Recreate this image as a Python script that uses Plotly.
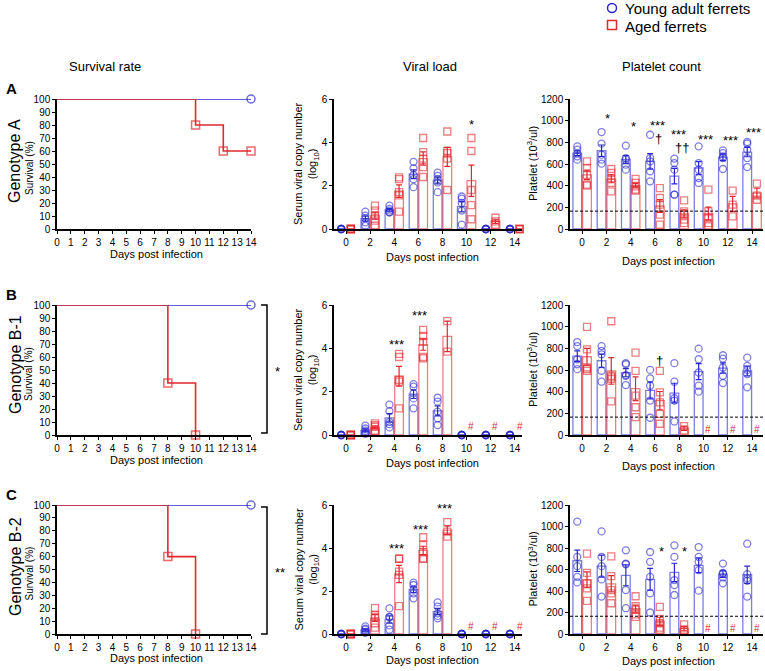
import numpy as np
import plotly.graph_objects as go

W, H = 765, 671
FONT = 'Liberation Sans, Arial, sans-serif'
BLUE = 'rgb(40, 40, 205)'
RED = 'rgb(225, 40, 45)'
BLUE_BAR = 'rgba(40, 40, 205, 0.6)'
RED_BAR = 'rgba(225, 40, 45, 0.6)'

days = [0, 2, 4, 6, 8, 10, 12, 14]
genotypes = ['Genotype A', 'Genotype B-1', 'Genotype B-2']
letters = ['A', 'B', 'C']
groups = ['Young adult ferrets', 'Aged ferrets']

# survival curves (%), aged group; young stays at 100
surv_young_x = [0, 14]
surv_young_y = [100, 100]
surv_aged_x = [[0, 10, 12, 14], [0, 8, 10], [0, 8, 10]]
surv_aged_y = [[100, 80, 60, 60], [100, 40, 0], [100, 60, 0]]

# viral load (log10 copies), individual ferrets per day
viral_young_A = [[0, 0, 0, 0, 0], [0.8, 0.62, 0.5, 0.31, 0.15], [1.08, 0.93, 0.85, 0.77, 0.77],
                 [3.1, 2.8, 2.5, 2.3, 1.93], [2.6, 2.45, 2.3, 2.15, 1.7], [1.5, 1.4, 1.2, 0.85, 0.2],
                 [0, 0, 0, 0, 0], [0, 0, 0, 0, 0]]
viral_aged_A = [[0, 0, 0, 0, 0], [1.08, 0.85, 0.62, 0.39, 0.15], [2.38, 2.3, 1.7, 1.55, 0.8],
                [4.2, 3.55, 3.25, 2.86, 2.4], [4.5, 3.6, 3.5, 3.25, 1.8], [4.2, 3.6, 1.8, 1.1, 0.45],
                [0.52, 0.35, 0.2], [0, 0, 0]]
viral_young_B = [[0, 0, 0, 0, 0], [0.43, 0.3, 0.2, 0.1, 0.05], [1.4, 1.1, 0.6, 0.5, 0.35],
                 [2.35, 2.23, 1.92, 1.69, 1.23], [1.72, 1.54, 1.08, 0.77, 0.46], [0, 0, 0, 0, 0],
                 [0, 0, 0, 0, 0], [0, 0, 0, 0, 0]]
viral_aged_B = [[0, 0, 0, 0, 0], [0.54, 0.45, 0.38, 0.2, 0.18], [3.74, 3.6, 2.54, 2.46, 1.23],
                [4.85, 4.57, 4.3, 3.6, 3.54], [5.26, 3.85], None, None, None]
viral_young_C = [[0, 0, 0, 0, 0], [0.35, 0.25, 0.2, 0.1, 0.05], [1.19, 0.8, 0.78, 0.4, 0.2],
                 [2.39, 2.28, 2.08, 1.89, 1.66], [1.47, 1.27, 0.96, 0.84, 0.73], [0, 0, 0, 0, 0],
                 [0, 0, 0, 0, 0], [0, 0, 0, 0, 0]]
viral_aged_C = [[0, 0, 0, 0, 0], [1.2, 0.9, 0.8, 0.5, 0.3], [3.5, 3.5, 2.9, 2.75, 1.3],
                [4.5, 4.14, 3.8, 3.52, 3.49], [5.2, 4.76, 4.53], None, None, None]

# platelet count (10^3/ul)
plt_young_A = [[763, 732, 695, 671, 640], [895, 788, 686, 640, 603], [770, 655, 640, 594, 548],
               [870, 655, 625, 532, 440], [650, 609, 548, 317, 317], [763, 609, 548, 471, 425],
               [726, 700, 670, 655, 554], [803, 788, 732, 655, 572]]
plt_aged_A = [[625, 563, 500, 409, 400], [554, 517, 470, 425, 348], [462, 425, 394, 363, 354],
              [378, 286, 225, 132, 40], [265, 163, 132, 86, 55], [363, 163, 100, 55, 25],
              [354, 225, 117], [418, 308, 270]]
plt_young_B = [[858, 821, 699, 653, 608], [821, 776, 745, 592, 492], [663, 653, 553, 547, 461],
               [601, 522, 455, 318, 159], [663, 492, 339, 318, 125], [797, 699, 577, 455, 400],
               [736, 705, 623, 547, 479], [714, 638, 601, 562, 440]]
plt_aged_B = [[998, 791, 623, 608, 592], [1050, 546, 531, 516, 311], [760, 592, 363, 256, 165],
              [592, 394, 302, 195, 104], [82, 43], None, None, None]
plt_young_C = [[1046, 717, 631, 532, 480], [954, 717, 631, 508, 348], [778, 655, 649, 409, 240],
               [763, 671, 532, 378, 200], [825, 717, 502, 455, 363], [809, 717, 671, 594, 403],
               [655, 569, 563, 526, 471], [840, 557, 517, 495, 348]]
plt_aged_C = [[748, 569, 471, 425, 308], [723, 538, 409, 378, 286], [351, 258, 228, 182, 160],
              [252, 140, 100, 60, 40], [90, 40, 20], None, None, None]
platelet_cutoff = 165

viral_young = [viral_young_A, viral_young_B, viral_young_C]
viral_aged = [viral_aged_A, viral_aged_B, viral_aged_C]
plt_young = [plt_young_A, plt_young_B, plt_young_C]
plt_aged = [plt_aged_A, plt_aged_B, plt_aged_C]

# significance marks: (x, y, text)
viral_marks = [[(10.4, 4.8, '*')],
               [(4.2, 4.2, '***'), (6.1, 5.5, '***')],
               [(4.2, 4.0, '***'), (6.2, 4.85, '***'), (8.2, 5.85, '***')]]
plt_marks = [[(2.1, 1020, '*'), (4.2, 950, '*'), (6.2, 955, '***'), (6.3, 835, '†'),
              (7.9, 875, '***'), (8.2, 750, '††'), (10.2, 830, '***'), (12.25, 820, '***'),
              (14.1, 890, '***')],
             [(6.35, 690, '†')],
             [(6.55, 770, '*'), (8.4, 770, '*')]]

ROW_PX = [(99, 229), (305, 435), (505, 634)]
COL_PX = [(57, 251), (334, 522), (570, 763)]


def fx(p):
    return p / W


def fy(p):
    return 1 - p / H


def sem(v):
    v = np.array(v, dtype=float)
    return float(v.std(ddof=1) / np.sqrt(len(v))) if len(v) > 1 else 0.0


fig = go.Figure()


def add_bars(k, young, aged):
    xa, ya = 'x%d' % k, 'y%d' % k
    for data, off, line_col, col, sym in [(young, -0.4, BLUE_BAR, BLUE, 'circle-open'),
                                          (aged, 0.4, RED_BAR, RED, 'square-open')]:
        bx, by, be = [], [], []
        px_, py_ = [], []
        for d, vals in zip(days, data):
            if vals is None:
                continue
            bx.append(d + off)
            by.append(float(np.mean(vals)))
            be.append(sem(vals))
            px_ += [d + off] * len(vals)
            py_ += vals
        fig.add_trace(go.Bar(x=bx, y=by, width=0.72, xaxis=xa, yaxis=ya, showlegend=False,
                             marker=dict(color='rgba(255,255,255,0)', line=dict(color=line_col, width=1.3)),
                             error_y=dict(type='data', array=be, color=col, thickness=1.2, width=3)))
        fig.add_trace(go.Scatter(x=px_, y=py_, mode='markers', xaxis=xa, yaxis=ya, showlegend=False,
                                 cliponaxis=False,
                                 marker=dict(symbol=sym, size=7, color=line_col, line=dict(width=1.3))))


for r in range(3):
    # survival panel
    k = 3 * r + 1
    fig.add_trace(go.Scatter(x=surv_young_x, y=surv_young_y, mode='lines+markers', line_shape='hv',
                             xaxis='x%d' % k, yaxis='y%d' % k, showlegend=False, cliponaxis=False,
                             line=dict(color=BLUE, width=1.6),
                             marker=dict(symbol='circle-open', size=[0, 8], color=BLUE, line=dict(width=1.5))))
    fig.add_trace(go.Scatter(x=surv_aged_x[r], y=surv_aged_y[r], mode='lines+markers', line_shape='hv',
                             xaxis='x%d' % k, yaxis='y%d' % k, showlegend=False, cliponaxis=False,
                             line=dict(color=RED, width=1.6),
                             marker=dict(symbol='square-open', size=[0] + [8] * (len(surv_aged_x[r]) - 1),
                                         color=RED, line=dict(width=1.5))))
    add_bars(3 * r + 2, viral_young[r], viral_aged[r])
    add_bars(3 * r + 3, plt_young[r], plt_aged[r])

axis_style = dict(showline=True, linecolor='black', linewidth=1.5, ticks='outside', ticklen=3,
                  tickwidth=1.2, tickcolor='black', showgrid=False, zeroline=False, automargin=False,
                  tickfont=dict(size=10, color='black', family=FONT))
layout = {}
ranges = [([0, 14], [0, 100], 1, 10), ([-1, 14.6], [0, 6], 2, 2), ([-1, 14.9], [0, 1200], 2, 200)]
for r in range(3):
    for c in range(3):
        k = 3 * r + c + 1
        xr, yr, xd, yd = ranges[c]
        sfx = '' if k == 1 else str(k)
        layout['xaxis' + sfx] = dict(axis_style, domain=[fx(COL_PX[c][0]), fx(COL_PX[c][1])], range=xr,
                                     anchor='y%d' % k, tickmode='array',
                                     tickvals=list(range(0, 15, xd)))
        layout['yaxis' + sfx] = dict(axis_style, domain=[fy(ROW_PX[r][1]), fy(ROW_PX[r][0])], range=yr,
                                     anchor='x%d' % k, dtick=yd)
fig.update_layout(**layout)

ann = []


def text(x, y, t, size=11, angle=0, color='black', bold=False, anchor='center'):
    if bold:
        t = '<b>%s</b>' % t
    ann.append(dict(x=fx(x), y=fy(y), xref='paper', yref='paper', text=t, showarrow=False,
                    textangle=angle, font=dict(size=size, color=color, family=FONT),
                    xanchor=anchor, yanchor='middle'))


text(105, 66, 'Survival rate', 13)
text(430, 66, 'Viral load', 13)
text(661, 66, 'Platelet count', 13)

# legend drawn by hand to match the tight spacing
fig.add_shape(type='circle', xref='paper', yref='paper', x0=fx(607.5), x1=fx(616.5), y0=fy(12.5), y1=fy(3.5),
              line=dict(color=BLUE, width=1.5))
fig.add_shape(type='rect', xref='paper', yref='paper', x0=fx(607.5), x1=fx(616.5), y0=fy(29.5), y1=fy(20.5),
              line=dict(color=RED, width=1.5))
text(623, 9, groups[0], 15, anchor='left')
text(623, 26, groups[1], 15, anchor='left')

title_y = [(254, 257, 261), (460, 463, 466), (658, 660, 661)]
geno_y = [161, 365, 567]
for r in range(3):
    top, bot = ROW_PX[r]
    mid = (top + bot) / 2
    text(11, top - 11, letters[r], 15, bold=True)
    text(15, geno_y[r], genotypes[r], 16, angle=-90)
    text(29, mid + 4, 'Survival (%)', 10, angle=-90)
    text(307, mid, 'Serum viral copy number<br>(log<sub>10</sub>)', 11, angle=-90)
    text(532, mid, 'Platelet (10<sup>3</sup>/ul)', 11, angle=-90)
    text(156, title_y[r][0], 'Days post infection', 11)
    text(432, title_y[r][1], 'Days post infection', 11)
    text(668, title_y[r][2], 'Days post infection', 11)
    for x, y, t in viral_marks[r]:
        ann.append(dict(x=x, y=y, xref='x%d' % (3 * r + 2), yref='y%d' % (3 * r + 2), text=t,
                        showarrow=False, font=dict(size=13, color='black', family=FONT)))
    for x, y, t in plt_marks[r]:
        ann.append(dict(x=x, y=y, xref='x%d' % (3 * r + 3), yref='y%d' % (3 * r + 3), text=t,
                        showarrow=False, font=dict(size=13, color='black', family=FONT)))
    # dead groups
    for c, yv in [(2, 0.37), (3, 50)]:
        k = 3 * r + c
        data = viral_aged[r] if c == 2 else plt_aged[r]
        for d, vals in zip(days, data):
            if vals is None:
                ann.append(dict(x=d + 0.4, y=yv, xref='x%d' % k, yref='y%d' % k, text='#',
                                showarrow=False, font=dict(size=10, color=RED, family=FONT)))
    fig.add_shape(type='line', xref='x%d domain' % (3 * r + 3), x0=0, x1=1, yref='y%d' % (3 * r + 3),
                  y0=platelet_cutoff, y1=platelet_cutoff, line=dict(color='black', width=1, dash='3px,2px'))

# brackets for survival comparison
for (top, bot), star, sx in [((305, 433), '*', 277), ((507, 634), '**', 280)]:
    fig.add_shape(type='path', xref='paper', yref='paper', line=dict(color='black', width=1.5),
                  path='M %f %f L %f %f L %f %f L %f %f' % (fx(261), fy(top), fx(267), fy(top),
                                                          fx(267), fy(bot), fx(261), fy(bot)))
    text(sx, (top + bot) / 2 + 2, star, 13)

fig.update_layout(
    width=W, height=H, margin=dict(l=0, r=0, t=0, b=0, autoexpand=False),
    paper_bgcolor='white', plot_bgcolor='white', barmode='overlay', showlegend=False,
    font=dict(family=FONT, color='black'),
    annotations=ann,
)

fig.write_html("out.html", config={'displayModeBar': False},
               post_script="document.body.style.margin = '0px';")
